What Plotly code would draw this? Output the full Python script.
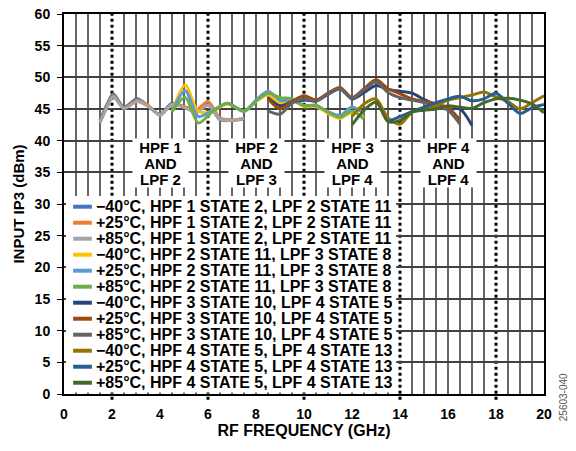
import plotly.graph_objects as go

FONT = "Liberation Sans, Arial, sans-serif"

# band 1: HPF 1 STATE 2 / LPF 2 STATE 11
freq_b1 = [1.5, 1.8, 2.05, 2.5, 3.05, 3.5, 4.0, 4.5, 5.1, 5.5, 6.0, 6.5, 7.0, 7.5]
b1_m40 = [43.2, 45.8, 47.4, 45.3, 46.6, 45.5, 44.2, 45.9, 45.2, 44.5, 45.7, 43.3, 43.2, 43.4]
b1_p25 = [42.9, 45.5, 47.1, 45.1, 46.4, 45.6, 44.0, 45.7, 45.3, 44.8, 46.2, 43.6, 43.3, 43.5]
b1_p85 = [42.8, 45.3, 46.9, 45.1, 46.2, 45.4, 44.1, 45.7, 45.1, 44.4, 45.6, 43.4, 43.2, 43.5]

# band 2: HPF 2 STATE 11 / LPF 3 STATE 8
freq_b2 = [4.5, 5.05, 5.6, 6.2, 6.8, 7.5, 8.0, 8.5, 9.0, 9.5, 10.0, 10.5, 11.0, 11.5, 12.0, 12.5]
b2_m40 = [44.6, 48.8, 44.6, 44.7, 45.8, 44.7, 46.2, 47.2, 45.9, 46.4, 45.4, 45.4, 44.3, 43.5, 44.5, 43.7]
b2_p25 = [44.6, 47.9, 43.8, 44.8, 45.9, 44.7, 46.4, 47.8, 46.4, 46.3, 45.6, 45.5, 44.6, 44.0, 45.3, 44.3]
b2_p85 = [44.6, 46.8, 42.8, 44.6, 45.9, 44.6, 46.2, 47.5, 46.8, 46.6, 45.5, 45.6, 44.5, 43.7, 44.7, 43.4]

# band 3: HPF 3 STATE 10 / LPF 4 STATE 5
freq_b3 = [8.5, 9.0, 9.5, 10.0, 10.5, 11.0, 11.5, 12.0, 12.5, 13.0, 13.5, 14.0, 14.5, 15.0, 15.5, 16.0, 16.5, 17.0]
b3_m40 = [46.8, 45.5, 46.1, 46.4, 46.3, 47.3, 48.2, 46.6, 47.6, 48.7, 48.1, 47.8, 47.5, 46.5, 45.6, 45.0, 45.0, 42.4]
b3_p25 = [46.6, 45.0, 46.2, 47.1, 46.4, 47.5, 48.4, 46.8, 48.2, 49.6, 48.2, 47.4, 46.6, 46.2, 45.8, 45.2, 43.3, None]
b3_p85 = [44.7, 44.2, 45.9, 46.6, 46.2, 47.4, 48.2, 46.7, 48.0, 49.3, 47.6, 46.8, 46.4, 46.0, 45.4, 44.8, 42.6, None]

# band 4: HPF 4 STATE 5 / LPF 4 STATE 13
freq_b4 = [12.0, 12.5, 13.0, 13.5, 14.0, 14.5, 15.0, 15.5, 16.0, 16.5, 17.0, 17.5, 18.0, 18.5, 19.0, 19.5, 20.0]
b4_m40 = [43.8, 45.8, 46.6, 43.6, 42.6, 44.5, 45.0, 45.5, 46.4, 46.8, 47.2, 47.7, 46.9, 46.2, 45.0, 46.0, 47.1]
b4_p25 = [None, None, None, 43.0, 43.8, 44.6, 45.3, 46.0, 46.6, 47.0, 46.3, 46.6, 47.5, 45.9, 44.3, 45.2, 45.7]
b4_p85 = [42.5, 44.8, 46.1, 43.0, 43.2, 44.5, 44.8, 45.0, 45.5, 45.3, 45.1, 46.0, 46.6, 46.7, 46.4, 45.8, 44.4]

series = [
    ("\u221240\u00b0C, HPF 1 STATE 2, LPF 2 STATE 11", freq_b1, b1_m40, "#4472C4"),
    ("+25\u00b0C, HPF 1 STATE 2, LPF 2 STATE 11", freq_b1, b1_p25, "#ED7D31"),
    ("+85\u00b0C, HPF 1 STATE 2, LPF 2 STATE 11", freq_b1, b1_p85, "#A5A5A5"),
    ("\u221240\u00b0C, HPF 2 STATE 11, LPF 3 STATE 8", freq_b2, b2_m40, "#FFC000"),
    ("+25\u00b0C, HPF 2 STATE 11, LPF 3 STATE 8", freq_b2, b2_p25, "#5B9BD5"),
    ("+85\u00b0C, HPF 2 STATE 11, LPF 3 STATE 8", freq_b2, b2_p85, "#70AD47"),
    ("\u221240\u00b0C, HPF 3 STATE 10, LPF 4 STATE 5", freq_b3, b3_m40, "#264478"),
    ("+25\u00b0C, HPF 3 STATE 10, LPF 4 STATE 5", freq_b3, b3_p25, "#9E480E"),
    ("+85\u00b0C, HPF 3 STATE 10, LPF 4 STATE 5", freq_b3, b3_p85, "#636363"),
    ("\u221240\u00b0C, HPF 4 STATE 5, LPF 4 STATE 13", freq_b4, b4_m40, "#997300"),
    ("+25\u00b0C, HPF 4 STATE 5, LPF 4 STATE 13", freq_b4, b4_p25, "#255E91"),
    ("+85\u00b0C, HPF 4 STATE 5, LPF 4 STATE 13", freq_b4, b4_p85, "#43682B"),
]

band_labels = ["HPF 1|AND|LPF 2", "HPF 2|AND|LPF 3", "HPF 3|AND|LPF 4", "HPF 4|AND|LPF 4"]
band_label_x = [4, 8, 12, 16]
band_edges = [2, 6, 10, 14, 18]

bold = dict(family=FONT, color="black", weight="bold")

fig = go.Figure()
for name, xs, ys, col in series:
    fig.add_trace(go.Scatter(
        x=xs, y=ys, mode="lines", name=name,
        line=dict(color=col, width=3, shape="spline", smoothing=0.8),
        showlegend=False,
    ))

shapes = []
# vertical grid every 0.5 GHz, dotted at the band edges
for k in range(1, 40):
    xv = k * 0.5
    if xv in band_edges:
        shapes.append(dict(type="line", xref="x", yref="paper", x0=xv, x1=xv, y0=-0.015, y1=1,
                           line=dict(color="black", width=3, dash="dot"), layer="below"))
    else:
        shapes.append(dict(type="line", xref="x", yref="paper", x0=xv, x1=xv, y0=0, y1=1,
                           line=dict(color="black", width=1.2), layer="below"))

# hand-drawn legend (tighter line pitch than plotly's own legend)
shapes.append(dict(type="rect", xref="paper", yref="paper", x0=0.004, x1=0.692, y0=0.004, y1=0.521,
                   fillcolor="white", line=dict(width=0), layer="above"))
annotations = []
for i, (name, xs, ys, col) in enumerate(series):
    yc = 0.4929 - 0.04211 * i
    shapes.append(dict(type="line", xref="paper", yref="paper", x0=0.019, x1=0.058, y0=yc, y1=yc,
                       line=dict(color=col, width=4), layer="above"))
    annotations.append(dict(xref="paper", yref="paper", x=0.064, y=yc, text=name, showarrow=False,
                            xanchor="left", yanchor="middle", height=15, borderpad=0,
                            font=dict(bold, size=16)))

for lab, xc in zip(band_labels, band_label_x):
    for j, row in enumerate(lab.split("|")):
        annotations.append(dict(xref="x", yref="y", x=xc, y=39.0 - 2.53 * j, text=row, showarrow=False,
                                width=54, height=15, bgcolor="white", borderpad=0.5,
                                font=dict(bold, size=15)))

annotations.append(dict(xref="paper", yref="paper", x=1.058, y=-0.076, text="25603-040", showarrow=False,
                        textangle=-90, font=dict(family=FONT, size=10, color="#555555")))

fig.update_layout(
    width=576, height=451,
    margin=dict(l=64, r=32, t=14, b=57, autoexpand=False),
    paper_bgcolor="white", plot_bgcolor="white",
    shapes=shapes, annotations=annotations,
    showlegend=False,
    xaxis=dict(range=[0, 20], tickvals=list(range(0, 21, 2)), showgrid=False, zeroline=False,
               showline=True, linecolor="black", linewidth=2, mirror=True, automargin=False,
               ticks="", ticklabelstandoff=6, tickfont=dict(bold, size=14),
               title=dict(text="RF FREQUENCY (GHz)", font=dict(bold, size=16), standoff=0)),
    yaxis=dict(range=[0, 60], dtick=5, showgrid=True, gridcolor="#404040", gridwidth=2, zeroline=False,
               showline=True, linecolor="black", linewidth=2, mirror=True, automargin=False,
               ticks="outside", ticklen=5, tickcolor="black", ticklabelstandoff=4,
               tickfont=dict(bold, size=14),
               title=dict(text="INPUT IP3 (dBm)", font=dict(bold, size=15), standoff=6)),
)

# drop the default 8px body margin so the figure fills the window exactly
fig.write_html("out.html", config={"displayModeBar": False},
               post_script="document.body.style.margin='0';")
